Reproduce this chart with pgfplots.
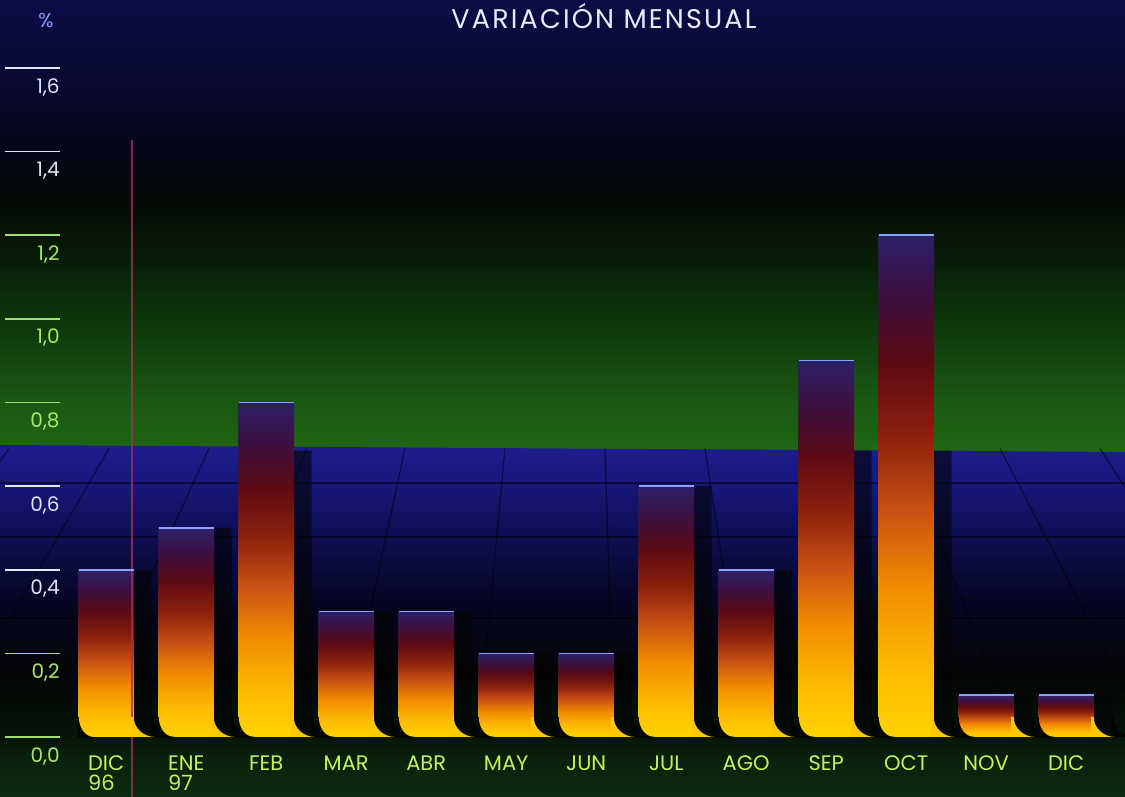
\documentclass[border=0pt]{standalone}
\usepackage{pgfplots}
\usepackage{pgfplotstable}
\pgfplotsset{compat=1.18}
\usepackage{fontspec}
\setmainfont{Poppins}
\newfontfamily\titlefont{Poppins}[LetterSpace=8]

% background colours (top part)
\definecolor{u0}{HTML}{1F6615}
\definecolor{u1}{HTML}{1A5812}
\definecolor{u2}{HTML}{0F3A0C}
\definecolor{u3}{HTML}{071A07}
\definecolor{u4}{HTML}{040A05}
\definecolor{u5}{HTML}{06061C}
\definecolor{u6}{HTML}{0A0A38}
\definecolor{u7}{HTML}{0C0C44}
% floor
\definecolor{f0}{HTML}{0C2A0E}
\definecolor{f1}{HTML}{0A220C}
\definecolor{f2}{HTML}{071509}
\definecolor{f3}{HTML}{030504}
\definecolor{f4}{HTML}{050520}
\definecolor{f5}{HTML}{0E0E52}
\definecolor{f6}{HTML}{18187E}
\definecolor{f7}{HTML}{1D1D8E}
% bars
\definecolor{b0}{HTML}{FFD200}
\definecolor{b1}{HTML}{FFBE00}
\definecolor{b2}{HTML}{F08C00}
\definecolor{b3}{HTML}{C85214}
\definecolor{b4}{HTML}{8C200C}
\definecolor{b5}{HTML}{5C0A14}
\definecolor{b6}{HTML}{3C1040}
\definecolor{b7}{HTML}{2C2068}
% texts and details
\definecolor{monthc}{HTML}{C4F25A}
\definecolor{labg}{HTML}{A8E868}
\definecolor{labw}{HTML}{DCE4F8}
\definecolor{tickg}{HTML}{A0E070}
\definecolor{tickw}{HTML}{E0E8F8}
\definecolor{titlec}{HTML}{E6ECFF}
\definecolor{pctc}{HTML}{8C9CFF}
\definecolor{shadowc}{HTML}{020402}
\definecolor{flarec}{HTML}{FFC800}
\definecolor{cornerc}{HTML}{030603}
\definecolor{topc}{HTML}{8CA0FF}
\definecolor{redline}{HTML}{A0305A}

\pgfdeclareverticalshading{upsh}{100bp}{color(0bp)=(u0); color(25bp)=(u0); color(30.75bp)=(u1); color(38.5bp)=(u2); color(47.35bp)=(u3); color(52.85bp)=(u4); color(59.5bp)=(u5); color(68.35bp)=(u6); color(75bp)=(u7); color(100bp)=(u7)}
\pgfdeclareverticalshading{floorsh}{100bp}{color(0bp)=(f0); color(25bp)=(f0); color(30.25bp)=(f1); color(33.5bp)=(f2); color(42bp)=(f3); color(52bp)=(f4); color(62bp)=(f5); color(70bp)=(f6); color(75bp)=(f7); color(100bp)=(f7)}
\pgfdeclareverticalshading{barsh}{100bp}{color(0bp)=(b0); color(25bp)=(b0); color(31bp)=(b1); color(40bp)=(b2); color(47.5bp)=(b3); color(55bp)=(b4); color(62.5bp)=(b5); color(69bp)=(b6); color(75bp)=(b7); color(100bp)=(b7)}

% foot of a bar (right flare)
\pgfdeclareplotmark{flare}{%
  \pgfpathmoveto{\pgfpoint{13.75pt}{10pt}}%
  \pgfpathcurveto{\pgfpoint{13.75pt}{4.5pt}}{\pgfpoint{18.6pt}{0pt}}{\pgfpoint{24.5pt}{0pt}}%
  \pgfpathlineto{\pgfpoint{12.5pt}{0pt}}%
  \pgfpathlineto{\pgfpoint{12.5pt}{10pt}}%
  \pgfpathclose
  \pgfusepathqfill}
% flare of the shadow
\pgfdeclareplotmark{sflare}{%
  \pgfpathmoveto{\pgfpoint{23.75pt}{10pt}}%
  \pgfpathcurveto{\pgfpoint{23.75pt}{4.5pt}}{\pgfpoint{28.6pt}{0pt}}{\pgfpoint{34.5pt}{0pt}}%
  \pgfpathlineto{\pgfpoint{22.5pt}{0pt}}%
  \pgfpathlineto{\pgfpoint{22.5pt}{10pt}}%
  \pgfpathclose
  \pgfusepathqfill}
% rounded lower left corner
\pgfdeclareplotmark{corner}{%
  \pgfpathmoveto{\pgfpoint{-13.75pt}{10pt}}%
  \pgfpathcurveto{\pgfpoint{-13.75pt}{4.5pt}}{\pgfpoint{-10.4pt}{0pt}}{\pgfpoint{-6.25pt}{0pt}}%
  \pgfpathlineto{\pgfpoint{-6.25pt}{-0.3pt}}%
  \pgfpathlineto{\pgfpoint{-14pt}{-0.3pt}}%
  \pgfpathlineto{\pgfpoint{-14pt}{10pt}}%
  \pgfpathclose
  \pgfusepathqfill}

\pgfplotstableread{
x y z
0 0.40 0
1 0.50 0
2 0.80 0
3 0.30 0
4 0.30 0
5 0.20 0
6 0.20 0
7 0.60 0
8 0.40 0
9 0.90 0
10 1.20 0
11 0.10 0
12 0.10 0
}\data

\begin{document}
\begin{tikzpicture}
\begin{axis}[
  scale only axis, width=562.5pt, height=398.5pt,
  xmin=-1.3275, xmax=12.735, ymin=-0.1435, ymax=1.7627,
  axis on top,
  axis line style={draw=none},
  xtick={0,...,12},
  xticklabels={{DIC\\96},{ENE\\97},FEB,MAR,ABR,MAY,JUN,JUL,AGO,SEP,OCT,NOV,DIC},
  xticklabel style={align=left, anchor=north, yshift=21pt, inner sep=0pt, text=monthc, font=\fontsize{10.5}{10}\selectfont},
  xtick style={draw=none},
  xtick pos=bottom, ytick pos=left,
  tick align=inside,
  major tick length=27.5pt,
  ytick={0,0.2,0.8,1.0,1.2},
  yticklabels={{0,0},{0,2},{0,8},{1,0},{1,2}},
  ytick style={draw=tickg, line width=0.8pt, xshift=2.5pt},
  yticklabel style={anchor=north east, xshift=30pt, yshift=-5pt, inner sep=0pt, text=labg, font=\fontsize{10}{12}\selectfont},
  extra y ticks={0.4,0.6,1.4,1.6},
  extra y tick labels={{0,4},{0,6},{1,4},{1,6}},
  extra y tick style={ytick style={draw=tickw}, yticklabel style={text=labw}},
]
\coordinate (bl) at (rel axis cs:0,0);
\coordinate (tr) at (rel axis cs:1,1);
\coordinate (pct) at (axis cs:-0.7525,1.6958);
\coordinate (ttl) at (axis cs:6.2225,1.6934);
% background
\shade[shading=upsh] (axis cs:-1.3275,0.6817) rectangle (axis cs:12.735,1.7627);
\shade[shading=floorsh] (axis cs:-1.3275,-0.1435) -- (axis cs:-1.3275,0.6984) -- (axis cs:12.735,0.6817) -- (axis cs:12.735,-0.1435) -- cycle;
% floor grid
\draw[black, opacity=0.5, line width=0.6pt] (axis cs:-1.3275,0.6075) -- (axis cs:12.735,0.6075);
\draw[black, opacity=0.5, line width=0.6pt] (axis cs:-1.3275,0.4784) -- (axis cs:12.735,0.4784);
\draw[black, opacity=0.5, line width=0.6pt] (axis cs:-1.3275,0.2846) -- (axis cs:12.735,0.2846);
\draw[black, opacity=0.5, line width=0.6pt] (axis cs:-1.215,0.69) -- (axis cs:-3.753,0);
\draw[black, opacity=0.5, line width=0.6pt] (axis cs:0.035,0.69) -- (axis cs:-2.0525,0);
\draw[black, opacity=0.5, line width=0.6pt] (axis cs:1.285,0.69) -- (axis cs:-0.365,0);
\draw[black, opacity=0.5, line width=0.6pt] (axis cs:2.4975,0.69) -- (axis cs:1.285,0);
\draw[black, opacity=0.5, line width=0.6pt] (axis cs:3.735,0.69) -- (axis cs:2.96,0);
\draw[black, opacity=0.5, line width=0.6pt] (axis cs:4.985,0.69) -- (axis cs:4.6475,0);
\draw[black, opacity=0.5, line width=0.6pt] (axis cs:6.235,0.69) -- (axis cs:6.3475,0);
\draw[black, opacity=0.5, line width=0.6pt] (axis cs:7.485,0.69) -- (axis cs:8.035,0);
\draw[black, opacity=0.5, line width=0.6pt] (axis cs:8.7125,0.69) -- (axis cs:9.6975,0);
\draw[black, opacity=0.5, line width=0.6pt] (axis cs:9.9475,0.69) -- (axis cs:11.3725,0);
\draw[black, opacity=0.5, line width=0.6pt] (axis cs:11.1725,0.69) -- (axis cs:13.035,0);
\draw[black, opacity=0.5, line width=0.6pt] (axis cs:12.4225,0.69) -- (axis cs:14.7375,0);
% shadows (cast on the floor only)
\addplot[ybar, bar width=27.5pt, bar shift=9pt, fill=shadowc, fill opacity=0.6, draw=none, y filter/.expression={min(y,0.685)}] table[x=x,y=y]{\data};
\addplot[only marks, mark=sflare, mark options={fill=shadowc, draw=none}] table[x=x,y=z]{\data};
% bars, one plot each so that every bar gets its own gradient
\pgfplotsinvokeforeach{0,...,12}{%
  \addplot[ybar, bar width=27.5pt, bar shift=0pt, draw=none, shade, shading=barsh, restrict x to domain=#1:#1] table[x=x,y=y]{\data};
}
\addplot[only marks, mark=flare, mark options={fill=flarec, draw=none}] table[x=x,y=z]{\data};
\addplot[only marks, mark=corner, mark options={fill=cornerc, draw=none}] table[x=x,y=z]{\data};
\addplot[only marks, mark=-, mark size=13.75pt, mark options={draw=topc, line width=0.8pt}] table[x=x,y=y]{\data};
% year separator
\draw[redline, line width=0.6pt, opacity=0.8] (axis cs:0.3225,1.428) -- (axis cs:0.3225,-0.1435);
\end{axis}
\node[anchor=base, text=pctc, font=\fontsize{10}{12}\selectfont] at (pct) {\%};
\node[anchor=base, text=titlec, font=\titlefont\fontsize{13.5}{16}\selectfont] at (ttl) {VARIACIÓN MENSUAL};
\pgfresetboundingbox
\path[use as bounding box] (bl) rectangle (tr);
\end{tikzpicture}
\end{document}
